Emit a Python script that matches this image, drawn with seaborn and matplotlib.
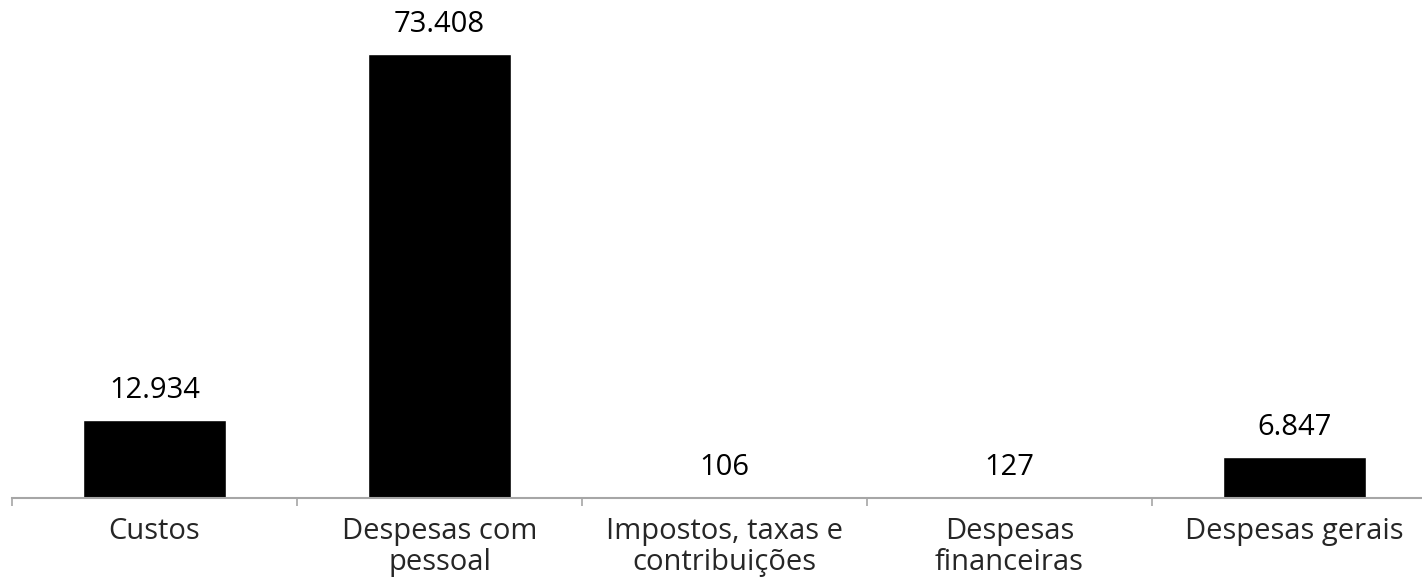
import matplotlib
matplotlib.use("Agg")
import matplotlib.pyplot as plt
import seaborn as sns
import numpy as np
import pandas as pd

# valores por categoria
categorias = ["Custos", "Despesas com\npessoal", "Impostos, taxas e\ncontribuições",
              "Despesas\nfinanceiras", "Despesas gerais"]
valores = [12934, 73408, 106, 127, 6847]
rotulos = ["12.934", "73.408", "106", "127", "6.847"]

sns.set_style("white")
plt.rcParams['font.family'] = ['Open Sans', 'DejaVu Sans']

df = pd.DataFrame({"cat": categorias, "val": valores})

W, H = 1422, 579
fig = plt.figure(figsize=(W / 100, H / 100), dpi=100)
# axis spans from x=12 to 1437 px (right end falls outside the image)
ax = fig.add_axes([12 / W, 81 / H, 1425 / W, 498 / H])

sns.barplot(data=df, x="cat", y="val", color="black", width=0.5,
            saturation=1, ax=ax)

ax.set_xlim(-0.5, 4.5)
ax.set_ylim(0, 82340)

for i, (v, t) in enumerate(zip(valores, rotulos)):
    ax.annotate(t, (i, v), xytext=(0, 15), textcoords="offset pixels",
                ha="center", va="bottom", fontsize=21, color="black")

for s in ["top", "right", "left"]:
    ax.spines[s].set_visible(False)
ax.spines["bottom"].set_color("#a6a6a6")
ax.spines["bottom"].set_linewidth(1.5)

ax.set_yticks([])
ax.set_xlabel("")
ax.set_ylabel("")
ax.set_xticks(np.arange(len(categorias)))
ax.set_xticklabels(categorias, fontsize=21, linespacing=1.05)
ax.tick_params(axis="x", which="major", bottom=True, length=0, pad=14)
ax.set_xticks(np.arange(-0.5, len(categorias)), minor=True)
ax.tick_params(axis="x", which="minor", bottom=True, length=6, width=1.2,
               color="#a6a6a6", direction="out")

fig.savefig("out.png", dpi=100)
